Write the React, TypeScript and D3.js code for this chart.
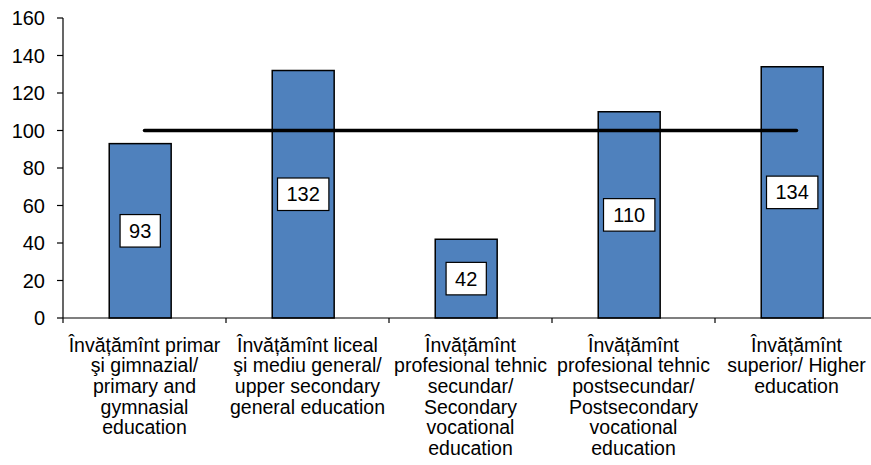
import React from "react";
import * as d3 from "d3";

const categories: string[][] = [
  ["Învățămînt primar", "şi gimnazial/", "primary and", "gymnasial", "education"],
  ["Învățămînt liceal", "şi mediu general/", "upper secondary", "general education"],
  ["Învățămînt", "profesional tehnic", "secundar/", "Secondary", "vocational", "education"],
  ["Învățămînt", "profesional tehnic", "postsecundar/", "Postsecondary", "vocational", "education"],
  ["Învățămînt", "superior/ Higher", "education"],
];
const values: number[] = [93, 132, 42, 110, 134];
const reference: number[] = [100, 100, 100, 100, 100];
const yTicks: number[] = [0, 20, 40, 60, 80, 100, 120, 140, 160];

const W = 871;
const H = 465;
const FONT = "'Liberation Sans', Arial, sans-serif";

export default function App() {
  const left = 63;
  const top = 18;
  const bottom = 318;
  const x = d3
    .scaleBand<number>()
    .domain(d3.range(values.length))
    .range([left, left + 163 * values.length])
    .paddingInner(0)
    .paddingOuter(0);
  const y = d3.scaleLinear().domain([0, 160]).range([bottom, top]);
  const bw = x.bandwidth() * 0.38;
  const shift = -4.3;
  const center = (i: number) => (x(i) as number) + x.bandwidth() / 2;
  const line = d3
    .line<number>()
    .x((_, i) => center(i))
    .y((d) => y(d));
  const charW = 0.556 * 20;

  return (
    <svg
      width={W}
      height={H}
      style={{ position: "absolute", left: 0, top: 0, background: "#fff" }}
      fontFamily={FONT}
    >
      <rect x={0} y={0} width={W} height={H} fill="#fff" />
      {values.map((v, i) => (
        <rect
          key={"b" + i}
          x={center(i) + shift - bw / 2}
          y={y(v)}
          width={bw}
          height={bottom - y(v)}
          fill="#4F81BD"
          stroke="#000"
          strokeWidth={1.5}
        />
      ))}
      <line x1={left} x2={W} y1={bottom} y2={bottom} stroke="#000" strokeWidth={1.2} />
      <line x1={left} x2={left} y1={top} y2={bottom} stroke="#000" strokeWidth={1.2} />
      {yTicks.map((t) => (
        <g key={"yt" + t}>
          <line x1={left - 6} x2={left} y1={y(t)} y2={y(t)} stroke="#000" strokeWidth={1.2} />
          <text
            x={left - 18}
            y={y(t)}
            dy="0.35em"
            textAnchor="end"
            fontSize={20}
            fill="#000"
          >
            {t}
          </text>
        </g>
      ))}
      {d3.range(values.length + 1).map((i) => (
        <line
          key={"xt" + i}
          x1={left + x.step() * i}
          x2={left + x.step() * i}
          y1={bottom}
          y2={bottom + 5}
          stroke="#000"
          strokeWidth={1.2}
        />
      ))}
      <path
        d={line(reference) || ""}
        fill="none"
        stroke="#000"
        strokeWidth={3.5}
        strokeLinecap="round"
      />
      {values.map((v, i) => {
        const s = String(v);
        const tw = s.length * charW;
        const bwid = tw + 18;
        const cx = center(i) + shift;
        const cy = (y(v) + bottom) / 2;
        return (
          <g key={"l" + i}>
            <rect
              x={cx - bwid / 2}
              y={cy - 16.25}
              width={bwid}
              height={32.5}
              fill="#fff"
              stroke="#000"
              strokeWidth={1.2}
            />
            <text x={cx} y={cy} dy="0.35em" textAnchor="middle" fontSize={20} fill="#000">
              {s}
            </text>
          </g>
        );
      })}
      {categories.map((lines, i) => (
        <text
          key={"c" + i}
          x={center(i)}
          y={351.5}
          textAnchor="middle"
          fontSize={19.5}
          fill="#000"
        >
          {lines.map((ln, j) => (
            <tspan key={j} x={center(i)} y={351.5 + j * 20.7}>
              {ln}
            </tspan>
          ))}
        </text>
      ))}
    </svg>
  );
}
